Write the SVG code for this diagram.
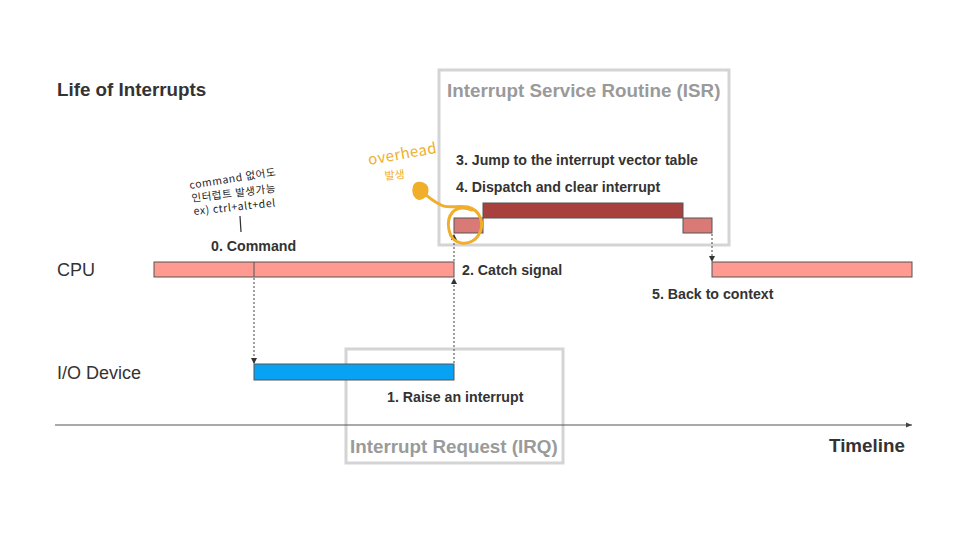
<svg xmlns="http://www.w3.org/2000/svg" width="970" height="540" viewBox="0 0 970 540">
<style>
.t{font-family:"Liberation Sans",Arial,sans-serif;fill:#333}
.b{font-weight:bold}
.lbl{font-family:"Liberation Sans",Arial,sans-serif;font-weight:bold;font-size:14.2px;fill:#333}
.sec{font-family:"Liberation Sans",Arial,sans-serif;font-weight:bold;font-size:18.8px;fill:#9a9a9a}
.box{fill:none;stroke:#d4d4d4;stroke-width:3}
.bar{stroke:#555;stroke-width:1}
.dash{stroke:#444;stroke-width:1;stroke-dasharray:2 2;fill:none}
.hand{font-family:"Noto Sans CJK KR","Noto Sans",sans-serif;fill:#222;font-size:10.5px;letter-spacing:0.6px}
.org{fill:none;stroke:#f0ae2a;stroke-width:3;stroke-linecap:round}
</style>
<defs>
<marker id="ah" markerWidth="6" markerHeight="6" refX="5" refY="3" orient="auto" markerUnits="userSpaceOnUse">
<path d="M0,0 L6,3 L0,6 z" fill="#333"/>
</marker>
<marker id="ax" markerWidth="7" markerHeight="7" refX="6" refY="3.5" orient="auto" markerUnits="userSpaceOnUse">
<path d="M0,1 L6,3.5 L0,6 z" fill="#444"/>
</marker>
</defs>
<rect width="970" height="540" fill="#fff"/>
<text class="t b" x="57" y="96" font-size="18.8">Life of Interrupts</text>

<g id="isr">
<rect class="box" x="439" y="70" width="290" height="175"/>
<text class="sec" x="447" y="97">Interrupt Service Routine (ISR)</text>
<text class="lbl" x="456" y="165">3. Jump to the interrupt vector table</text>
<text class="lbl" x="456" y="192">4. Dispatch and clear interrupt</text>
<rect class="bar" x="483" y="203" width="200" height="15" fill="#a8413e"/>
<rect class="bar" x="454" y="218" width="29" height="15" fill="#d97a77"/>
<rect class="bar" x="683" y="218" width="29" height="15" fill="#d97a77"/>
</g>

<g id="irq">
<rect class="box" x="346" y="349" width="217" height="114"/>
<text class="sec" x="350" y="453">Interrupt Request (IRQ)</text>
</g>

<g id="cpu">
<text class="t" x="57" y="276" font-size="18">CPU</text>
<rect class="bar" x="154" y="262" width="300" height="15" fill="#ff9a92"/>
<line x1="254" y1="262" x2="254" y2="277" stroke="#555"/>
<rect class="bar" x="712" y="262" width="200" height="15" fill="#ff9a92"/>
<text class="lbl" x="211" y="251">0. Command</text>
<text class="lbl" x="462" y="275">2. Catch signal</text>
<text class="lbl" x="652" y="299">5. Back to context</text>
</g>

<g id="io">
<text class="t" x="57" y="379" font-size="18">I/O Device</text>
<rect class="bar" x="254" y="364" width="200" height="16" fill="#08a2f4"/>
<text class="lbl" x="387" y="402">1. Raise an interrupt</text>
</g>

<g id="connectors">
<line class="dash" x1="254" y1="278" x2="254" y2="363" marker-end="url(#ah)"/>
<line class="dash" x1="454" y1="363" x2="454" y2="279" marker-end="url(#ah)"/>
<line class="dash" x1="454" y1="261" x2="454" y2="235" marker-end="url(#ah)"/>
<line class="dash" x1="712" y1="234" x2="712" y2="261" marker-end="url(#ah)"/>
<line x1="55" y1="425" x2="912" y2="425" stroke="#555" stroke-width="1.2" marker-end="url(#ax)"/>
</g>
<text class="t b" x="829" y="452" font-size="18.8">Timeline</text>

<g id="note-command">
<text class="hand" transform="translate(190,189) rotate(-9)">command 없어도</text>
<text class="hand" transform="translate(192,202) rotate(-7)">인터럽트 발생가능</text>
<text class="hand" transform="translate(194,215) rotate(-6)">ex) ctrl+alt+del</text>
<line x1="240" y1="216" x2="241" y2="232" stroke="#333" stroke-width="1.2"/>
</g>

<g id="note-overhead">
<text transform="translate(369,165) rotate(-10)" font-family="Noto Sans CJK KR,Noto Sans,sans-serif" font-size="15" letter-spacing="0.5" fill="#f0ae2a">overhead</text>
<text transform="translate(385,180) rotate(-6)" font-family="Noto Sans CJK KR,sans-serif" font-size="11" fill="#f0ae2a">발생</text>
<path class="org" d="M472,210 C454,203 446,216 449,230 C452,246 470,247 478,236 C486,224 480,210 468,207 C456,205 448,209 441,205 C433,201 428,197 424,193"/>
<path d="M414,186 C416,181 424,182 427,187 C429,193 425,198 419,199 C414,198 412,191 414,186 Z" fill="#f0ae2a" stroke="#f0ae2a" stroke-width="2" stroke-linejoin="round"/>
</g>
</svg>
